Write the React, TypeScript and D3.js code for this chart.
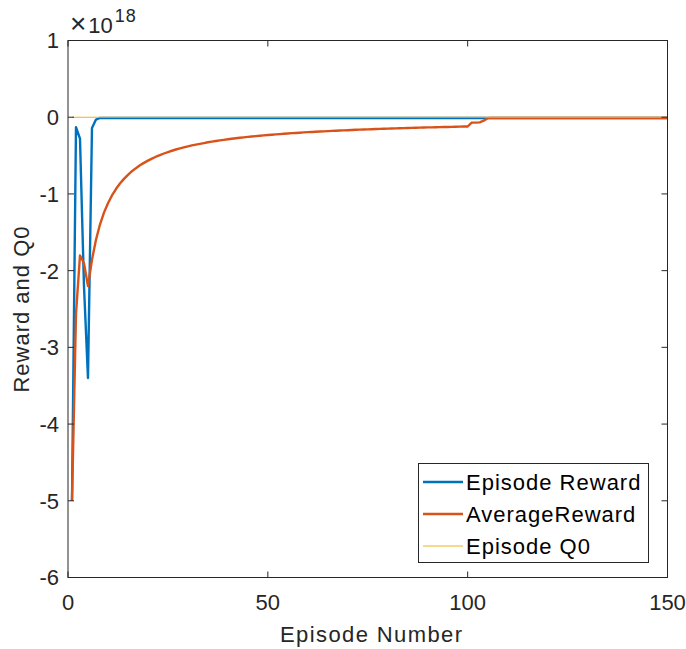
import * as d3 from "d3";
import {useEffect, useRef} from "react";

// values in units of 1e18
const exponent = 18;

const episodeReward = [
    -5, -0.13, -0.28, -2.2, -3.4, -0.14, -0.03, -0.01, -0.01, -0.01,
    -0.01, -0.01, -0.01, -0.01, -0.01, -0.01, -0.01, -0.01, -0.01, -0.01,
    -0.01, -0.01, -0.01, -0.01, -0.01, -0.01, -0.01, -0.01, -0.01, -0.01,
    -0.01, -0.01, -0.01, -0.01, -0.01, -0.01, -0.01, -0.01, -0.01, -0.01,
    -0.01, -0.01, -0.01, -0.01, -0.01, -0.01, -0.01, -0.01, -0.01, -0.01,
    -0.01, -0.01, -0.01, -0.01, -0.01, -0.01, -0.01, -0.01, -0.01, -0.01,
    -0.01, -0.01, -0.01, -0.01, -0.01, -0.01, -0.01, -0.01, -0.01, -0.01,
    -0.01, -0.01, -0.01, -0.01, -0.01, -0.01, -0.01, -0.01, -0.01, -0.01,
    -0.01, -0.01, -0.01, -0.01, -0.01, -0.01, -0.01, -0.01, -0.01, -0.01,
    -0.01, -0.01, -0.01, -0.01, -0.01, -0.01, -0.01, -0.01, -0.01, -0.01,
    -0.01, -0.01, -0.01, -0.01, -0.01, -0.01, -0.01, -0.01, -0.01, -0.01,
    -0.01, -0.01, -0.01, -0.01, -0.01, -0.01, -0.01, -0.01, -0.01, -0.01,
    -0.01, -0.01, -0.01, -0.01, -0.01, -0.01, -0.01, -0.01, -0.01, -0.01,
    -0.01, -0.01, -0.01, -0.01, -0.01, -0.01, -0.01, -0.01, -0.01, -0.01,
    -0.01, -0.01, -0.01, -0.01, -0.01, -0.01, -0.01, -0.01, -0.01, -0.01,
]

const averageReward = [
    -5, -2.565, -1.803, -1.903, -2.202, -1.858, -1.597, -1.399, -1.244, -1.121,
    -1.020, -0.936, -0.865, -0.804, -0.751, -0.704, -0.664, -0.627, -0.595, -0.566,
    -0.539, -0.515, -0.493, -0.473, -0.454, -0.437, -0.421, -0.407, -0.393, -0.380,
    -0.368, -0.357, -0.347, -0.337, -0.327, -0.319, -0.310, -0.302, -0.295, -0.288,
    -0.281, -0.275, -0.268, -0.263, -0.257, -0.252, -0.246, -0.241, -0.237, -0.232,
    -0.228, -0.224, -0.220, -0.216, -0.212, -0.208, -0.205, -0.202, -0.198, -0.195,
    -0.192, -0.189, -0.186, -0.184, -0.181, -0.178, -0.176, -0.173, -0.171, -0.169,
    -0.166, -0.164, -0.162, -0.160, -0.158, -0.156, -0.154, -0.152, -0.151, -0.149,
    -0.147, -0.145, -0.144, -0.142, -0.141, -0.139, -0.138, -0.136, -0.135, -0.133,
    -0.132, -0.131, -0.129, -0.128, -0.127, -0.126, -0.125, -0.123, -0.122, -0.121,
    -0.071, -0.070, -0.067, -0.045, -0.012, -0.010, -0.010, -0.010, -0.010, -0.010,
    -0.010, -0.010, -0.010, -0.010, -0.010, -0.010, -0.010, -0.010, -0.010, -0.010,
    -0.010, -0.010, -0.010, -0.010, -0.010, -0.010, -0.010, -0.010, -0.010, -0.010,
    -0.010, -0.010, -0.010, -0.010, -0.010, -0.010, -0.010, -0.010, -0.010, -0.010,
    -0.010, -0.010, -0.010, -0.010, -0.010, -0.010, -0.010, -0.010, -0.010, -0.010,
]

const episodeQ0 = [
    0, 0, 0, 0, 0, 0, 0, 0, 0, 0,
    0, 0, 0, 0, 0, 0, 0, 0, 0, 0,
    0, 0, 0, 0, 0, 0, 0, 0, 0, 0,
    0, 0, 0, 0, 0, 0, 0, 0, 0, 0,
    0, 0, 0, 0, 0, 0, 0, 0, 0, 0,
    0, 0, 0, 0, 0, 0, 0, 0, 0, 0,
    0, 0, 0, 0, 0, 0, 0, 0, 0, 0,
    0, 0, 0, 0, 0, 0, 0, 0, 0, 0,
    0, 0, 0, 0, 0, 0, 0, 0, 0, 0,
    0, 0, 0, 0, 0, 0, 0, 0, 0, 0,
    0, 0, 0, 0, 0, 0, 0, 0, 0, 0,
    0, 0, 0, 0, 0, 0, 0, 0, 0, 0,
    0, 0, 0, 0, 0, 0, 0, 0, 0, 0,
    0, 0, 0, 0, 0, 0, 0, 0, 0, 0,
    0, 0, 0, 0, 0, 0, 0, 0, 0, 0,
]

const xTicks = [0, 50, 100, 150]
const yTicks = [1, 0, -1, -2, -3, -4, -5, -6]

const seriesNames = ["Episode Reward", "AverageReward", "Episode Q0"]

const width = 686
const height = 649
const axisColor = "#262626"
const font = "'Liberation Sans', Arial, sans-serif"

const useD3 = (renderChartFn, dependencies) => {
    const ref = useRef(null);
    useEffect(() => {
        renderChartFn(d3.select(ref.current));
    }, dependencies);
    return ref;
}

const App = () => {
    const ref = useD3((svg) => {
        svg.selectAll("*").remove()

        const left = 68, right = 667.5, top = 40.5, bottom = 577.5
        const x = d3.scaleLinear().domain([0, 150]).range([left, right])
        const y = d3.scaleLinear().domain([-6, 1]).range([bottom, top])
        const episodes = episodeReward.map((_, i) => i + 1)

        const series = [
            {name: seriesNames[0], values: episodeReward, color: "#0072BD", lw: 2.4},
            {name: seriesNames[1], values: averageReward, color: "#D95319", lw: 2.4},
            {name: seriesNames[2], values: episodeQ0, color: "#EDB120", lw: 1.1},
        ]

        svg.append("rect")
            .attr("width", width).attr("height", height).attr("fill", "white")

        const line = d3.line()
            .x((d) => x(d[0]))
            .y((d) => y(d[1]))

        svg.append("defs").append("clipPath").attr("id", "plotclip")
            .append("rect")
            .attr("x", left).attr("y", top)
            .attr("width", right - left).attr("height", bottom - top)

        const plot = svg.append("g").attr("clip-path", "url(#plotclip)")
        series.forEach((s) => {
            plot.append("path")
                .attr("d", line(episodes.map((e, i) => [e, s.values[i]])))
                .attr("fill", "none")
                .attr("stroke", s.color)
                .attr("stroke-width", s.lw)
                .attr("stroke-linejoin", "round")
        })

        // box
        svg.append("rect")
            .attr("x", left).attr("y", top)
            .attr("width", right - left).attr("height", bottom - top)
            .attr("fill", "none")
            .attr("stroke", axisColor)
            .attr("stroke-width", 1)

        const tickLen = 6
        const g = svg.append("g")
            .style("font-family", font)
            .style("font-size", "22px")
            .attr("fill", axisColor)

        xTicks.forEach((t) => {
            g.append("line")
                .attr("x1", x(t)).attr("x2", x(t))
                .attr("y1", bottom).attr("y2", bottom - tickLen)
                .attr("stroke", axisColor)
            g.append("line")
                .attr("x1", x(t)).attr("x2", x(t))
                .attr("y1", top).attr("y2", top + tickLen)
                .attr("stroke", axisColor)
            g.append("text")
                .attr("x", x(t)).attr("y", 610)
                .attr("text-anchor", "middle")
                .text(t)
        })

        yTicks.forEach((t) => {
            g.append("line")
                .attr("x1", left).attr("x2", left + tickLen)
                .attr("y1", y(t)).attr("y2", y(t))
                .attr("stroke", axisColor)
            g.append("line")
                .attr("x1", right).attr("x2", right - tickLen)
                .attr("y1", y(t)).attr("y2", y(t))
                .attr("stroke", axisColor)
            g.append("text")
                .attr("x", left - 9).attr("y", y(t))
                .attr("dy", "0.36em")
                .attr("text-anchor", "end")
                .text(t)
        })

        // exponent label
        const ex = g.append("text").attr("x", 70).attr("y", 33)
        ex.append("tspan").text("\u00d7").style("font-size", "28px")
        ex.append("tspan").text("10").attr("dx", 2)
        ex.append("tspan").attr("dy", -11).attr("dx", 2)
            .style("font-size", "18px").style("letter-spacing", "1px").text(exponent)

        g.append("text")
            .attr("x", (left + right) / 2 + 4).attr("y", 642)
            .attr("text-anchor", "middle")
            .style("letter-spacing", "1.4px")
            .text("Episode Number")

        g.append("text")
            .attr("transform", `translate(28.5, ${(top + bottom) / 2}) rotate(-90)`)
            .attr("text-anchor", "middle")
            .style("letter-spacing", "1px")
            .text("Reward and Q0")

        // legend
        const lg = svg.append("g")
        lg.append("rect")
            .attr("x", 418.5).attr("y", 463.5)
            .attr("width", 230).attr("height", 99)
            .attr("fill", "white")
            .attr("stroke", axisColor)
            .attr("stroke-width", 1)
        series.forEach((s, i) => {
            const ly = 482 + i * 32
            lg.append("line")
                .attr("x1", 423).attr("x2", 463)
                .attr("y1", ly).attr("y2", ly)
                .attr("stroke", s.color)
                .attr("stroke-width", s.lw)
            lg.append("text")
                .attr("x", 466).attr("y", ly)
                .attr("dy", "0.36em")
                .style("font-family", font)
                .style("font-size", "22px")
                .style("letter-spacing", "1px")
                .attr("fill", "black")
                .text(s.name)
        })
    }, [])

    return (
        <svg
            ref={ref}
            width={width}
            height={height}
            style={{position: "absolute", left: 0, top: 0}}
        />
    )
}

export default App;
